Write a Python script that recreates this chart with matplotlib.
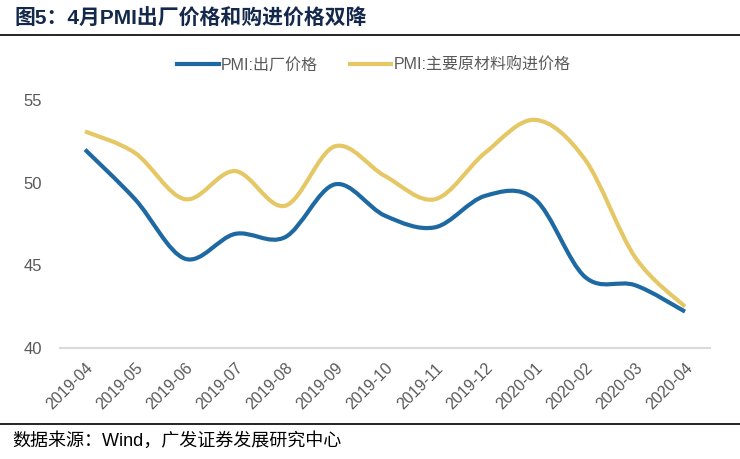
import numpy as np
import matplotlib
matplotlib.use("Agg")
import matplotlib.pyplot as plt
from matplotlib.path import Path
from matplotlib.patches import PathPatch
from matplotlib.lines import Line2D

plt.rcParams['font.family'] = ['Liberation Sans', 'Noto Sans CJK SC', 'DejaVu Sans']

months = ["2019-04", "2019-05", "2019-06", "2019-07", "2019-08", "2019-09", "2019-10",
          "2019-11", "2019-12", "2020-01", "2020-02", "2020-03", "2020-04"]
output_price = [52.0, 49.0, 45.4, 46.9, 46.7, 49.9, 48.0, 47.3, 49.2, 49.0, 44.3, 43.8, 42.2]
input_price = [53.1, 51.8, 49.0, 50.7, 48.6, 52.2, 50.4, 49.0, 51.8, 53.8, 51.4, 45.5, 42.5]

BLUE = "#1f69a3"
YELLOW = "#e5c865"
GREY = "#595959"


def smooth_path(xs, ys):
    # Excel-like smoothed line: cubic bezier through the points (Catmull-Rom)
    pts = np.column_stack([xs, ys]).astype(float)
    verts = [pts[0]]
    codes = [Path.MOVETO]
    n = len(pts)
    for i in range(n - 1):
        p0 = pts[i - 1] if i > 0 else pts[i]
        p1 = pts[i]
        p2 = pts[i + 1]
        p3 = pts[i + 2] if i + 2 < n else pts[i + 1]
        c1 = p1 + (p2 - p0) / 6.0
        c2 = p2 - (p3 - p1) / 6.0
        verts += [c1, c2, p2]
        codes += [Path.CURVE4] * 3
    return Path(verts, codes)


fig = plt.figure(figsize=(7.4, 4.59), dpi=100)
ax = fig.add_axes([60 / 740, 1 - 348 / 459, 650 / 740, 248 / 459])

x = np.arange(len(months))
for vals, color in [(output_price, BLUE), (input_price, YELLOW)]:
    ax.add_patch(PathPatch(smooth_path(x, vals), facecolor="none", edgecolor=color,
                           lw=3.0, capstyle="butt", zorder=3))

ax.set_xlim(-0.5, len(months) - 0.5)
ax.set_ylim(40, 55)
ax.set_yticks([40, 45, 50, 55])
ax.set_xticks(x)
ax.set_xticklabels(months, rotation=45, ha="right", rotation_mode="anchor")
ax.tick_params(axis="both", length=0, colors=GREY)
ax.tick_params(axis="y", pad=13, labelsize=12)
ax.tick_params(axis="x", pad=9, labelsize=11.5)
for s in ["top", "right", "left"]:
    ax.spines[s].set_visible(False)
ax.spines["bottom"].set_color("#d9d9d9")
ax.spines["bottom"].set_linewidth(1.5)

handles = [Line2D([], [], color=BLUE, lw=3), Line2D([], [], color=YELLOW, lw=3)]
fig.legend(handles, ["PMI:出厂价格", "PMI:主要原材料购进价格"], loc="center",
           bbox_to_anchor=(374 / 740, 1 - 65 / 459), ncol=2, frameon=False,
           fontsize=11.5, labelcolor=GREY, handlelength=2.6, handletextpad=0.15,
           columnspacing=2.0)

fig.text(14 / 740, 1 - 19 / 459, "图5：4月PMI出厂价格和购进价格双降", fontsize=15,
         fontweight="bold", color="#14284b", va="center", ha="left")
fig.add_artist(Line2D([0, 1], [1 - 35 / 459] * 2, color="black", lw=1.2))
fig.add_artist(Line2D([0, 1], [1 - 424 / 459] * 2, color="black", lw=1.2))
fig.text(12 / 740, 1 - 441 / 459, "数据来源：Wind，广发证券发展研究中心", fontsize=13,
         color="black", va="center", ha="left")

fig.savefig("out.png", dpi=100)
